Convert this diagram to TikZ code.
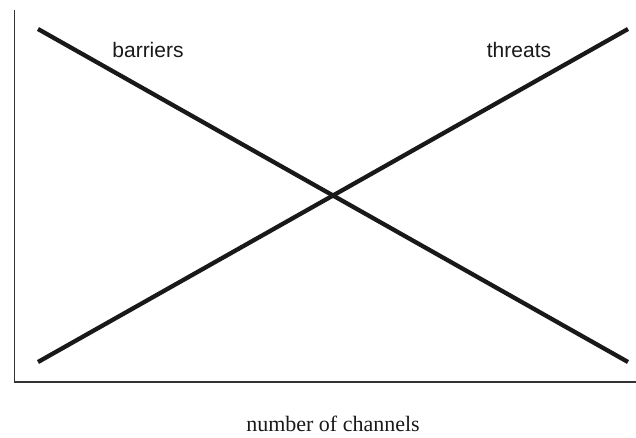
\documentclass[tikz,border=0pt]{standalone}
\usepackage{fontspec}
\setmainfont{Liberation Serif}
\newfontfamily\arialfont{Liberation Sans}
\begin{document}
\begin{tikzpicture}[x=1pt,y=-1pt,
  axis/.style={draw=black!80, line width=1.4pt},
  curve/.style={draw=black!90, line width=4.3pt, line cap=butt},
  lbl/.style={font=\arialfont\fontsize{21}{25}\selectfont, text=black!90, anchor=base, inner sep=0pt},
  xlbl/.style={font=\fontsize{22}{26}\selectfont, text=black!90, anchor=base, inner sep=0pt}]
\useasboundingbox (0,0) rectangle (636,437);
\coordinate (top) at (14.5,10);
\coordinate (origin) at (14.5,382);
\coordinate (right) at (636,382);
\coordinate (b1) at (38,29);
\coordinate (b2) at (628,362);
\coordinate (t1) at (38,362);
\coordinate (t2) at (628,29);
\draw[axis] (top) -- (origin) -- (right);
\draw[curve] (b1) -- (b2);
\draw[curve] (t1) -- (t2);
\node[lbl] (barriers) at (148,57) {barriers};
\node[lbl] (threats) at (519,57) {threats};
\node[xlbl] (xlabel) at (333,431) {number of channels};
\end{tikzpicture}
\end{document}
